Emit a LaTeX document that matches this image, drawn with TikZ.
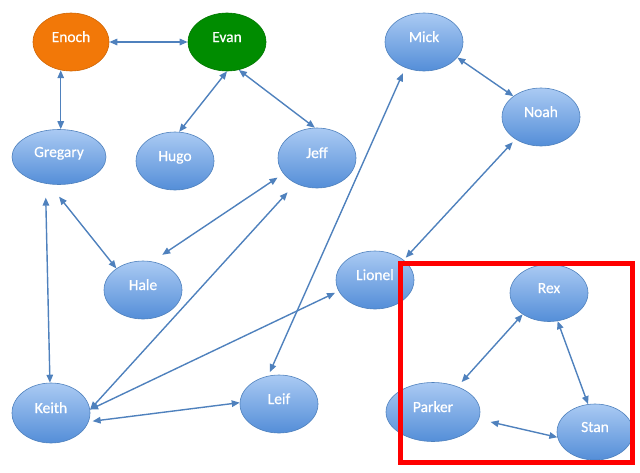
\documentclass[tikz,border=0pt]{standalone}
\usepackage{fontspec}
\setmainfont{Carlito}
\newfontfamily\personfont{Carlito}[FakeBold=0.6]
\usepackage{tikz}
\usepackage{xcolor}
\usetikzlibrary{shapes.geometric}
\usetikzlibrary{arrows.meta}
\definecolor{linkblue}{RGB}{79,129,189}
\definecolor{nodetop}{RGB}{170,202,243}
\definecolor{nodebottom}{RGB}{84,142,216}
\definecolor{enochorange}{RGB}{242,120,8}
\definecolor{evangreen}{RGB}{0,140,0}
\tikzset{
	person/.style={ellipse,draw=linkblue,line width=0.6pt,top color=nodetop,bottom color=nodebottom,
		minimum width=78pt,minimum height=58pt,inner sep=0pt,text=white,
		font=\personfont\fontsize{15.5}{18}\selectfont,text height=11pt,text depth=11pt},
	link/.style={draw=linkblue,line width=1.4pt,
		{Triangle[length=8pt,width=6.5pt]}-{Triangle[length=8pt,width=6.5pt]}},
}

\begin{document}
\begin{tikzpicture}[x=1pt,y=-1pt]
\useasboundingbox (0,0) rectangle (640,472);

%
\node[person,top color=enochorange,bottom color=enochorange,draw=enochorange!85!black,minimum width=76pt] (enoch) at (71,42) {Enoch};
\node[person,top color=evangreen,bottom color=evangreen,draw=evangreen!85!black] (evan) at (227,42) {Evan};
\node[person] (mick) at (424,42) {Mick};
\node[person] (noah) at (541,117) {Noah};
\node[person,minimum width=94pt,minimum height=55pt] (gregary) at (59,157) {Gregary};
\node[person] (hugo) at (175,161) {Hugo};
\node[person,minimum height=60pt] (jeff) at (317,158) {Jeff};
\node[person] (hale) at (143,290) {Hale};
\node[person] (lionel) at (375,280) {Lionel};
\node[person,minimum height=57pt] (rex) at (549,293) {Rex};
\node[person,minimum height=60pt] (keith) at (51,413) {Keith};
\node[person] (leif) at (279,404) {Leif};
\node[person,minimum width=94pt,minimum height=59pt] (parker) at (433,412) {Parker};
\node[person,minimum width=76pt,minimum height=56pt] (stan) at (595,432) {Stan};

%
\draw[link] (enoch.east) -- (evan.west);
\draw[link] (enoch.-110) -- (enoch.-110 |- gregary.north);
\draw[link] (evan.south) -- (hugo.82);
\draw[link] (evan.-67) -- (jeff.94);
\draw[link,shorten <=14pt] (gregary.-117) -- (keith.92);
\draw[link,shorten <=16pt] (gregary.-110) -- (hale.141);
\draw[link,shorten <=12pt,shorten >=7pt] (hale.72) -- (jeff.-155);
\draw[link,shorten >=12pt] (keith.5) -- (jeff.-130);
\draw[link,shorten >=4pt] (keith.5) -- (lionel.-163);
\draw[link,shorten <=4pt] (keith.-13) -- (leif.178);
\draw[link,shorten <=4pt,shorten >=6pt] (leif.111) -- (mick.-126);
\draw[link] (mick.-25) -- (noah.143);
\draw[link,shorten <=4pt,shorten >=3pt] (noah.-139) -- (lionel.35);
\draw[link,shorten >=6pt] (rex.-141) -- (parker.46);
\draw[link] (rex.-73) -- (stan.104);
\draw[link,shorten <=12pt] (parker.-9) -- (stan.-172);
%\draw[link] (lionel) -- (rex);

\draw[red,line width=5pt] (400.5,263.5) rectangle (632.5,462.5);

\end{tikzpicture}
\end{document}
